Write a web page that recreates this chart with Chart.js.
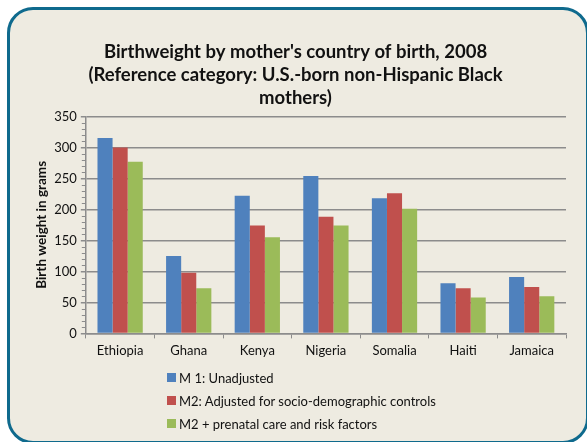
<!DOCTYPE html>
<html>
<head>
<meta charset="utf-8">
<script src="https://cdn.jsdelivr.net/npm/chart.js@4.4.1/dist/chart.umd.min.js"></script>
<style>
    html, body {margin: 0; padding: 0; background: #fff; overflow: hidden;}
    #frame {
        position: absolute; left: 7px; top: 7px; width: 582px; height: 437px;
        box-sizing: border-box; border: 3px solid #0F6A8D; border-radius: 26px;
        background: #EEEBE1;
    }
    #wrap {position: absolute; left: 0; top: 0; width: 587px; height: 442px;}
    #legend {
        position: absolute; left: 167px; top: 366px; margin: 0; padding: 0;
        list-style: none; font: 13px Lato, sans-serif; color: #111;
    }
    #legend li {height: 23px; line-height: 16px; display: flex; align-items: center;}
    #legend span {display: inline-block; width: 9px; height: 9px; margin-right: 3px;}
</style>
</head>
<body>
<div id="frame"></div>
<div id="wrap"><canvas id="chart" width="587" height="442"></canvas></div>
<ul id="legend"></ul>
<script>
    const countries = ['Ethiopia', 'Ghana', 'Kenya', 'Nigeria', 'Somalia', 'Haiti', 'Jamaica'];
    const unadjusted = [315, 125, 222, 254, 218, 81, 91];
    const adjustedSocio = [300, 98, 174, 188, 226, 73, 75];
    const adjustedPrenatal = [277, 73, 155, 174, 201, 58, 60];
    const seriesNames = [
        'M 1: Unadjusted',
        'M2: Adjusted for socio-demographic controls',
        'M2 + prenatal care and risk factors'
    ];
    const seriesColors = ['#4F81BD', '#C0504D', '#9BBB59'];

    const axisGrey = '#8C8C8C';

    // small ticks every 10 g on the value axis, like the original
    const minorTicks = {
        id: 'minorTicks',
        afterDraw(chart) {
            const y = chart.scales.y;
            const ctx = chart.ctx;
            ctx.save();
            ctx.strokeStyle = axisGrey;
            ctx.lineWidth = 1;
            for (let v = y.min; v <= y.max; v += 10) {
                if (v % 50 === 0) continue;
                const py = Math.round(y.getPixelForValue(v)) + 0.5;
                ctx.beginPath();
                ctx.moveTo(y.right - 4, py);
                ctx.lineTo(y.right, py);
                ctx.stroke();
            }
            ctx.restore();
        }
    };

    const htmlLegend = {
        id: 'htmlLegend',
        afterUpdate(chart) {
            const ul = document.getElementById('legend');
            ul.innerHTML = '';
            chart.data.datasets.forEach(ds => {
                const li = document.createElement('li');
                const box = document.createElement('span');
                box.style.background = ds.backgroundColor;
                li.appendChild(box);
                li.appendChild(document.createTextNode(ds.label));
                ul.appendChild(li);
            });
        }
    };

    const values = [unadjusted, adjustedSocio, adjustedPrenatal];

    new Chart(document.getElementById('chart'), {
        type: 'bar',
        data: {
            labels: countries,
            datasets: values.map((data, i) => ({
                label: seriesNames[i],
                data: data,
                backgroundColor: seriesColors[i],
                borderWidth: 0,
                categoryPercentage: 0.66,
                barPercentage: 1
            }))
        },
        options: {
            responsive: false,
            animation: false,
            layout: {padding: {left: 25, right: 21, top: 0, bottom: 78}},
            plugins: {
                legend: {display: false},
                tooltip: {enabled: false},
                title: {
                    display: true,
                    text: [
                        "Birthweight by mother's country of birth, 2008",
                        '(Reference category: U.S.-born non-Hispanic Black',
                        'mothers)'
                    ],
                    color: '#111',
                    font: {family: 'Lato', size: 18.5, weight: 'bold', lineHeight: 1.25},
                    padding: {top: 40, bottom: 7}
                }
            },
            scales: {
                x: {
                    grid: {
                        display: true, drawOnChartArea: false, drawTicks: true,
                        tickLength: 5, color: axisGrey, offset: true
                    },
                    border: {display: true, color: axisGrey, width: 1.5},
                    ticks: {color: '#111', font: {family: 'Lato', size: 13}, padding: 5}
                },
                y: {
                    min: 0,
                    max: 350,
                    ticks: {stepSize: 50, color: '#111', font: {family: 'Lato', size: 13}, padding: 4},
                    grid: {color: axisGrey, lineWidth: 1.5, tickLength: 5},
                    border: {display: true, color: axisGrey, width: 1.5},
                    title: {
                        display: true,
                        text: 'Birth weight in grams',
                        color: '#111',
                        font: {family: 'Lato', size: 13.5, weight: 'bold'},
                        padding: {top: 9, bottom: 0}
                    }
                }
            }
        },
        plugins: [minorTicks, htmlLegend]
    });
</script>
</body>
</html>
